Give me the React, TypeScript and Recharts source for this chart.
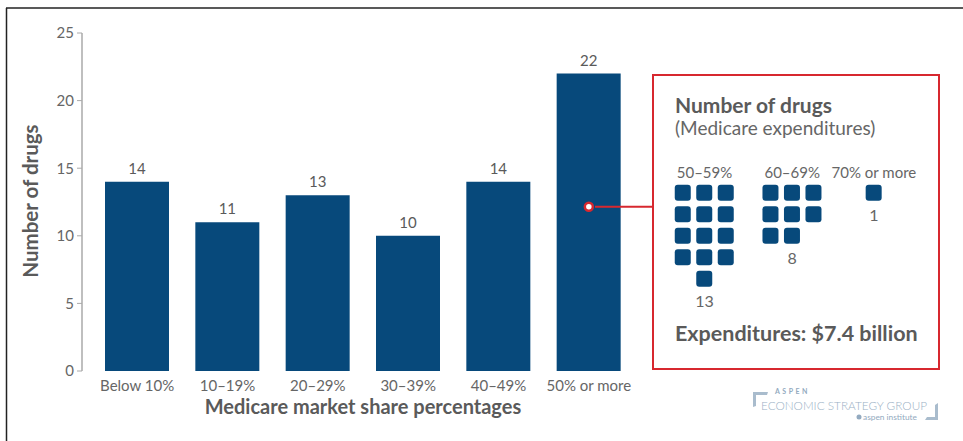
import { BarChart, Bar, XAxis, YAxis, LabelList, ReferenceDot, ScatterChart, Scatter } from 'recharts';

const categories = ['Below 10%', '10–19%', '20–29%', '30–39%', '40–49%', '50% or more'];
const drugCounts = [14, 11, 13, 10, 14, 22];
const yTicks = [0, 5, 10, 15, 20, 25];

const waffleGroups = ['50–59%', '60–69%', '70% or more'];
const waffleCounts = [13, 8, 1];
const calloutValue = 12.15;

const FONT = 'Lato, "Noto Sans", sans-serif';
const NAVY = '#07497b';
const RED = '#d7282f';
const GREY = '#5a5a5a';

const barData = categories.map((name, i) => ({ name, count: drugCounts[i] }));

// waffle layout (column units)
const groupStart = [0, 4.08, 7.88];
const PITCH = 21.5;
const WAFFLE_LEFT = 683 - 0.5 * PITCH;
const WAFFLE_TOP = 193 - 0.5 * PITCH;

const waffleData = waffleCounts.flatMap((n, g) => {
  const pts: { col: number; row: number }[] = [];
  const fullRows = Math.floor(n / 3);
  const rem = n % 3;
  for (let k = 0; k < fullRows * 3; k++) pts.push({ col: groupStart[g] + (k % 3), row: Math.floor(k / 3) });
  const off = Math.floor((3 - rem) / 2);
  for (let k = 0; k < rem; k++) pts.push({ col: groupStart[g] + off + k, row: fullRows });
  return pts;
});

const lastRow = waffleCounts.map((n) => Math.ceil(n / 3) - 1);

const Square = (p: any) => (
  <rect x={p.cx - 8} y={p.cy - 8} width={16} height={16} rx={3} ry={3} fill={NAVY} />
);

export default function App() {
  const dotY = 33 + ((25 - calloutValue) / 25) * 338;
  return (
    <div style={{ position: 'absolute', left: 0, top: 0, width: 963, height: 441, background: '#fff', fontFamily: FONT }}>
      <BarChart width={963} height={441} data={barData} margin={{ top: 33, right: 329, bottom: 40, left: 0 }}>
        <XAxis
          dataKey="name"
          axisLine={false}
          tickLine={false}
          height={30}
          padding={{ left: 10, right: 0 }}
          tick={{ fontSize: 15, fill: '#666', fontFamily: FONT }}
          tickMargin={3}
        />
        <YAxis
          width={82}
          domain={[0, 25]}
          ticks={yTicks}
          axisLine={{ stroke: '#aaa', strokeWidth: 1.5 }}
          tickLine={{ stroke: '#aaa' }}
          tickSize={5}
          tickMargin={3}
          tick={{ fontSize: 15, fill: '#666', fontFamily: FONT }}
        />
        <Bar dataKey="count" fill={NAVY} barSize={64} isAnimationActive={false}>
          <LabelList dataKey="count" position="top" offset={8} style={{ fontSize: 15, fill: GREY, fontFamily: FONT }} />
        </Bar>
        <ReferenceDot x="50% or more" y={calloutValue} r={4} fill="#fff" stroke={RED} strokeWidth={2.5} />
      </BarChart>

      <div style={{ position: 'absolute', left: WAFFLE_LEFT, top: WAFFLE_TOP }}>
        <ScatterChart width={11 * PITCH} height={5 * PITCH} margin={{ top: 0, right: 0, bottom: 0, left: 0 }}>
          <XAxis type="number" dataKey="col" domain={[-0.5, 10.5]} hide />
          <YAxis type="number" dataKey="row" domain={[-0.5, 4.5]} reversed hide />
          <Scatter data={waffleData} shape={Square} isAnimationActive={false} />
        </ScatterChart>
      </div>

      <svg width={963} height={441} style={{ position: 'absolute', left: 0, top: 0, pointerEvents: 'none' }} fontFamily={FONT}>
        <line x1={6} y1={8} x2={963} y2={8} stroke="#222" strokeWidth={1.5} />
        <line x1={6.5} y1={8} x2={6.5} y2={441} stroke="#222" strokeWidth={1.5} />

        <text transform="translate(38,201) rotate(-90)" textAnchor="middle" fontSize={20.5} fontWeight={700} fill={GREY}>
          Number of drugs
        </text>
        <text x={363} y={414} textAnchor="middle" fontSize={20} fontWeight={700} fill={GREY}>
          Medicare market share percentages
        </text>

        <line x1={595} y1={dotY} x2={653} y2={dotY} stroke={RED} strokeWidth={2} />
        <rect x={653} y={75} width={286} height={294} fill="none" stroke={RED} strokeWidth={2} />

        <text x={675} y={113} fontSize={21} fontWeight={700} fill={GREY}>Number of drugs</text>
        <text x={675} y={135} fontSize={19} fill="#666">(Medicare expenditures)</text>
        {waffleGroups.map((g, i) => {
          const cx = WAFFLE_LEFT + (groupStart[i] + 1 + 0.5) * PITCH;
          const bottom = WAFFLE_TOP + (lastRow[i] + 1) * PITCH;
          return (
            <g key={g}>
              <text x={cx} y={178} textAnchor="middle" fontSize={15} fill="#666">{g}</text>
              <text x={cx} y={bottom + 17} textAnchor="middle" fontSize={16} fill="#666">{waffleCounts[i]}</text>
            </g>
          );
        })}
        <text x={675} y={341} fontSize={21.5} fontWeight={700} fill={GREY}>Expenditures: $7.4 billion</text>

        <g fill="#a9bccd">
          <polygon points="753,392 768,392 767,395 756,395 756,406 753,407" />
          <polygon points="938,403 938,420 925,420 927,417 935,417 935,405" />
        </g>
        <text x={775} y={394} fontSize={7} fontWeight={700} letterSpacing={2.5} fill="#93aac0">ASPEN</text>
        <text x={761} y={410} fontSize={12} fontWeight={300} fill="#9bb1c5" textLength={166} lengthAdjust="spacingAndGlyphs">
          ECONOMIC STRATEGY GROUP
        </text>
        <circle cx={859} cy={417} r={2.5} fill="#93aac0" />
        <text x={863} y={419.5} fontSize={7.5} fill="#93aac0" textLength={54} lengthAdjust="spacingAndGlyphs">aspen institute</text>
      </svg>
    </div>
  );
}
